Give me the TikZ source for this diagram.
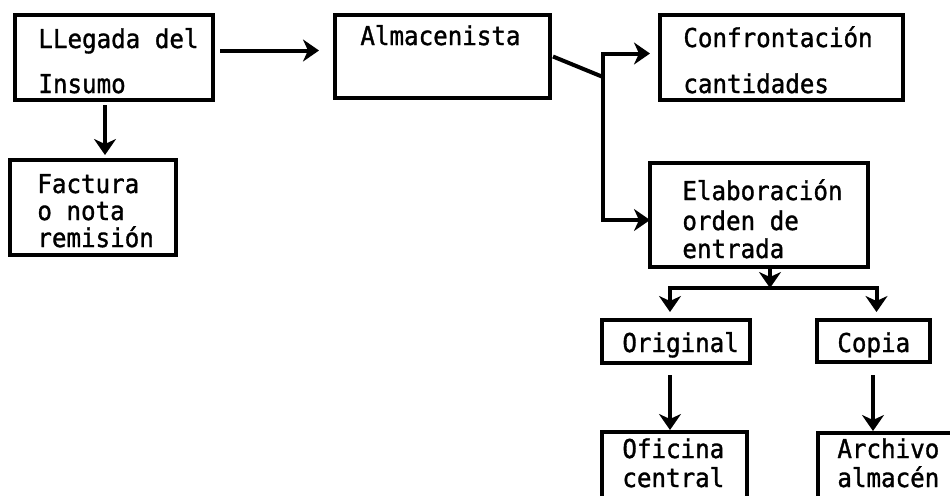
\documentclass[tikz,border=0pt]{standalone}
\usepackage{fontspec}
\newfontfamily\typewr[FakeStretch=0.93, FakeBold=1.2]{DejaVu Sans Mono}
\usetikzlibrary{arrows.meta}
\begin{document}
\begin{tikzpicture}[x=0.5pt, y=-0.5pt,
  box/.style={draw, line width=2pt, inner sep=0pt, outer sep=0pt, rectangle},
  txt/.style={anchor=base west, inner sep=0pt, font=\typewr\fontsize{13pt}{15pt}\selectfont},
  link/.style={line width=2pt},
  arr/.style={line width=2pt, -{Stealth[length=8pt, width=11pt, inset=2.5pt]}}]
\useasboundingbox (0,0) rectangle (950,495);
\clip (0,0) rectangle (950,495);
\fill[white] (0,0) rectangle (950,495);

% boxes
\node[box, minimum width=99pt,  minimum height=42.5pt] (llegada) at (114,57.5) {};
\node[box, minimum width=83pt,  minimum height=47.5pt] (factura) at (93,207.5) {};
\node[box, minimum width=107.5pt, minimum height=41.5pt] (almac) at (442.5,56.5) {};
\node[box, minimum width=121.5pt, minimum height=42.5pt] (confr) at (781.5,57.5) {};
\node[box, minimum width=109pt, minimum height=52pt] (elab) at (759,215) {};
\node[box, minimum width=74pt,  minimum height=21.5pt] (orig) at (676,341.5) {};
\node[box, minimum width=56.5pt, minimum height=21pt] (copia) at (873.5,341) {};
\node[box, minimum width=72.5pt, minimum height=54pt] (ofic) at (674.5,486) {};
\node[box, minimum width=86pt,  minimum height=53.5pt] (arch) at (904,486.5) {};

% labels
\node[txt] (t1) at (38,48) {LLegada del};
\node[txt] (t2) at (38,93) {Insumo};
\node[txt] (t3) at (37,193) {Factura};
\node[txt] (t4) at (37,220) {o nota};
\node[txt] (t5) at (37,247) {remisión};
\node[txt] (t6) at (360,45) {Almacenista};
\node[txt] (t7) at (683,47) {Confrontación};
\node[txt] (t8) at (683,93) {cantidades};
\node[txt] (t9) at (682,200) {Elaboración};
\node[txt] (t10) at (682,230) {orden de};
\node[txt] (t11) at (682,258) {entrada};
\node[txt] (t12) at (622,352) {Original};
\node[txt] (t13) at (837,352) {Copia};
\node[txt] (t14) at (622,458) {Oficina};
\node[txt] (t15) at (622,487) {central};
\node[txt] (t16) at (837,458) {Archivo};
\node[txt] (t17) at (837,487) {almacén};

% junction points
\coordinate (j) at (603,77);
\coordinate (split) at (770,288);

% connectors
\draw[arr, shorten <=3.5pt, shorten >=8pt]
  ([yshift=3.5pt]llegada.east) -- ([yshift=3.5pt]llegada.east -| almac.west);
\draw[arr, shorten <=2.5pt, shorten >=2.5pt]
  ([xshift=-4.5pt]llegada.south) -- ([xshift=-4.5pt]llegada.south |- factura.north);
\draw[link, line join=round] ([xshift=1.5pt]almac.east) -- (j);
\draw[arr, shorten >=5pt] (j) |- ([yshift=2pt]confr.west);
\draw[arr] (j) |- ([yshift=-2.5pt]elab.west);
\draw[arr] ([xshift=5.5pt]elab.south) -- (split);
\draw[arr, shorten >=4pt] (split) -| ([xshift=-3pt]orig.north);
\draw[arr, shorten >=4pt] (split) -| ([xshift=1.5pt]copia.north);
\draw[arr, shorten <=6pt, shorten >=1pt] ([xshift=-3pt]orig.south) -- ([xshift=-3pt]orig.south |- ofic.north);
\draw[arr, shorten <=6.5pt, shorten >=1pt] ([xshift=-0.25pt]copia.south) -- ([xshift=-0.25pt]copia.south |- arch.north);
\end{tikzpicture}
\end{document}
